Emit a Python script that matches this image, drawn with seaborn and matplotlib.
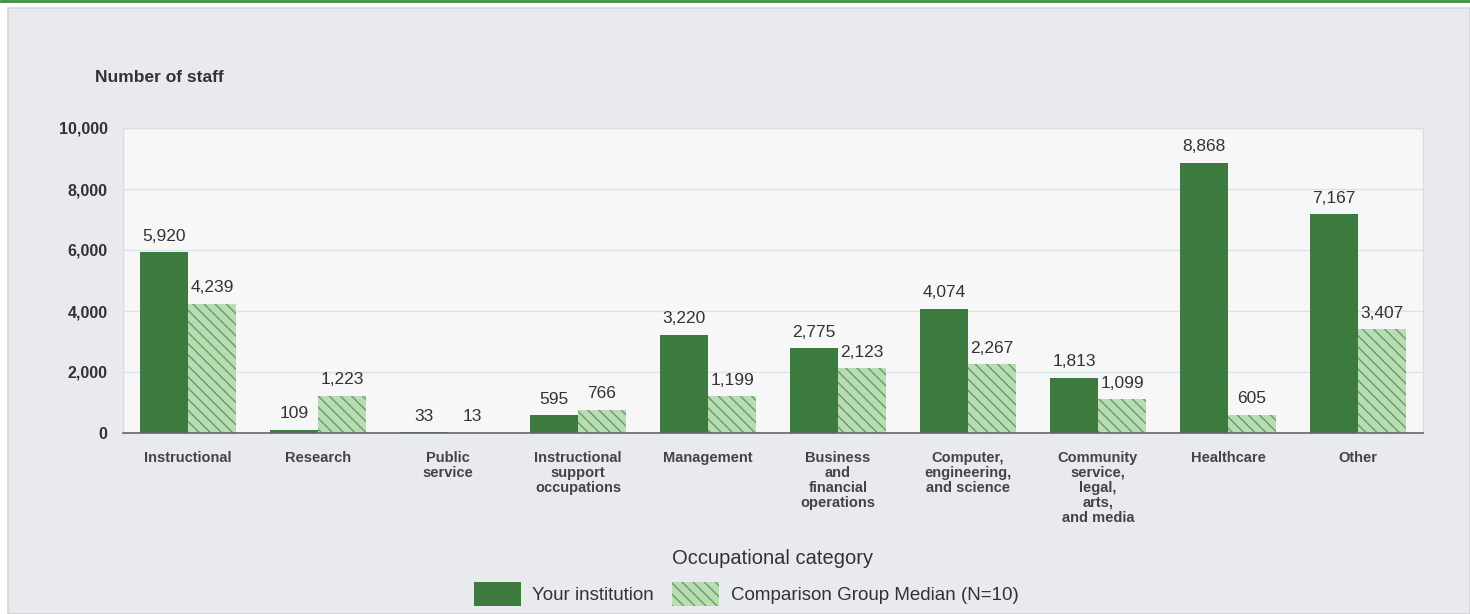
import matplotlib
matplotlib.use("Agg")
import matplotlib.pyplot as plt
import matplotlib.patches as mpatches
import seaborn as sns
import pandas as pd
import numpy as np

categories = ["Instructional", "Research", "Public\nservice",
              "Instructional\nsupport\noccupations", "Management",
              "Business\nand\nfinancial\noperations",
              "Computer,\nengineering,\nand science",
              "Community\nservice,\nlegal,\narts,\nand media",
              "Healthcare", "Other"]
your_institution = [5920, 109, 33, 595, 3220, 2775, 4074, 1813, 8868, 7167]
comparison_median = [4239, 1223, 13, 766, 1199, 2123, 2267, 1099, 605, 3407]
series_names = ["Your institution", "Comparison Group Median (N=10)"]
y_ticks = [0, 2000, 4000, 6000, 8000, 10000]

dark = "#3d7a3d"
light = "#b9dcb5"
hatch_col = "#649f61"

sns.set_theme(style="white")
plt.rcParams["font.family"] = ["Liberation Sans", "DejaVu Sans"]
plt.rcParams["hatch.linewidth"] = 1.0
plt.rcParams["hatch.color"] = hatch_col

df = pd.DataFrame({
    "category": categories * 2,
    "value": your_institution + comparison_median,
    "series": [series_names[0]] * len(categories) + [series_names[1]] * len(categories),
})

fig = plt.figure(figsize=(14.7, 6.14), dpi=100)
fig.patch.set_facecolor("white")
panel = mpatches.Rectangle((8 / 1470, 0), 1 - 8 / 1470, 1 - 8 / 614,
                           transform=fig.transFigure, facecolor="#e9eaee",
                           edgecolor="#d3d5d9", linewidth=1.2, zorder=-10)
fig.patches.append(panel)
fig.add_artist(plt.Line2D([0, 1], [1 - 1 / 614, 1 - 1 / 614], transform=fig.transFigure,
                          color="#3f8f3f", linewidth=2))

ax = fig.add_axes([123 / 1470, 1 - 433 / 614, 1300 / 1470, 305 / 614])
ax.set_facecolor("#f7f7f7")

sns.barplot(data=df, x="category", y="value", hue="series", order=categories,
            hue_order=series_names, palette=[dark, light], width=0.74, gap=0,
            saturation=1, ax=ax, legend=False, edgecolor="none", linewidth=0)

for bar in ax.containers[1]:
    bar.set_hatch("\\\\\\")
    bar.set_edgecolor(hatch_col)
    bar.set_linewidth(0)

for cont in ax.containers:
    ax.bar_label(cont, labels=[f"{v.get_height():,.0f}" for v in cont], padding=6,
                 fontsize=12.5, color="#333333")

ax.set_ylim(0, 10000)
ax.set_xlim(-0.5, len(categories) - 0.5)
ax.set_yticks(y_ticks)
ax.set_yticklabels([f"{t:,}" for t in y_ticks], fontsize=11.5, color="#333333",
                   fontweight="bold")
ax.tick_params(axis="y", length=0, pad=11)
ax.yaxis.grid(True, color="#d9e3ef", linewidth=1)
ax.set_axisbelow(True)

ax.set_xticks(range(len(categories)))
ax.set_xticklabels(categories, fontsize=10.5, color="#444444", linespacing=1.08,
                   fontweight="bold")
ax.tick_params(axis="x", length=0, pad=13)
ax.set_xticks(np.arange(-0.5, len(categories), 1), minor=True)
ax.tick_params(axis="x", which="minor", length=6, width=1, color="#666666", direction="out")

for s in ["top", "right", "left"]:
    ax.spines[s].set_color("#d6dde6")
    ax.spines[s].set_linewidth(1)
ax.spines["bottom"].set_color("#666666")
ax.spines["bottom"].set_linewidth(1.2)

ax.set_xlabel("")
ax.set_ylabel("")
fig.text(95 / 1470, 1 - 78 / 614, "Number of staff", fontsize=12.5, color="#333333",
         fontweight="bold", va="center", ha="left")
fig.text(773 / 1470, 1 - 559 / 614, "Occupational category", fontsize=14.5,
         color="#333333", va="center", ha="center")

handles = [mpatches.Patch(facecolor=dark, edgecolor="none"),
           mpatches.Patch(facecolor=light, edgecolor=hatch_col, hatch="\\\\\\", linewidth=0)]
leg = fig.legend(handles, series_names, loc="center", bbox_to_anchor=(746 / 1470, 1 - 594 / 614),
                 ncol=2, frameon=False, fontsize=13.5, handlelength=2.5, handleheight=1.6,
                 columnspacing=1.0, handletextpad=0.6, labelcolor="#333333")

fig.savefig("out.png", dpi=100, facecolor=fig.get_facecolor())
